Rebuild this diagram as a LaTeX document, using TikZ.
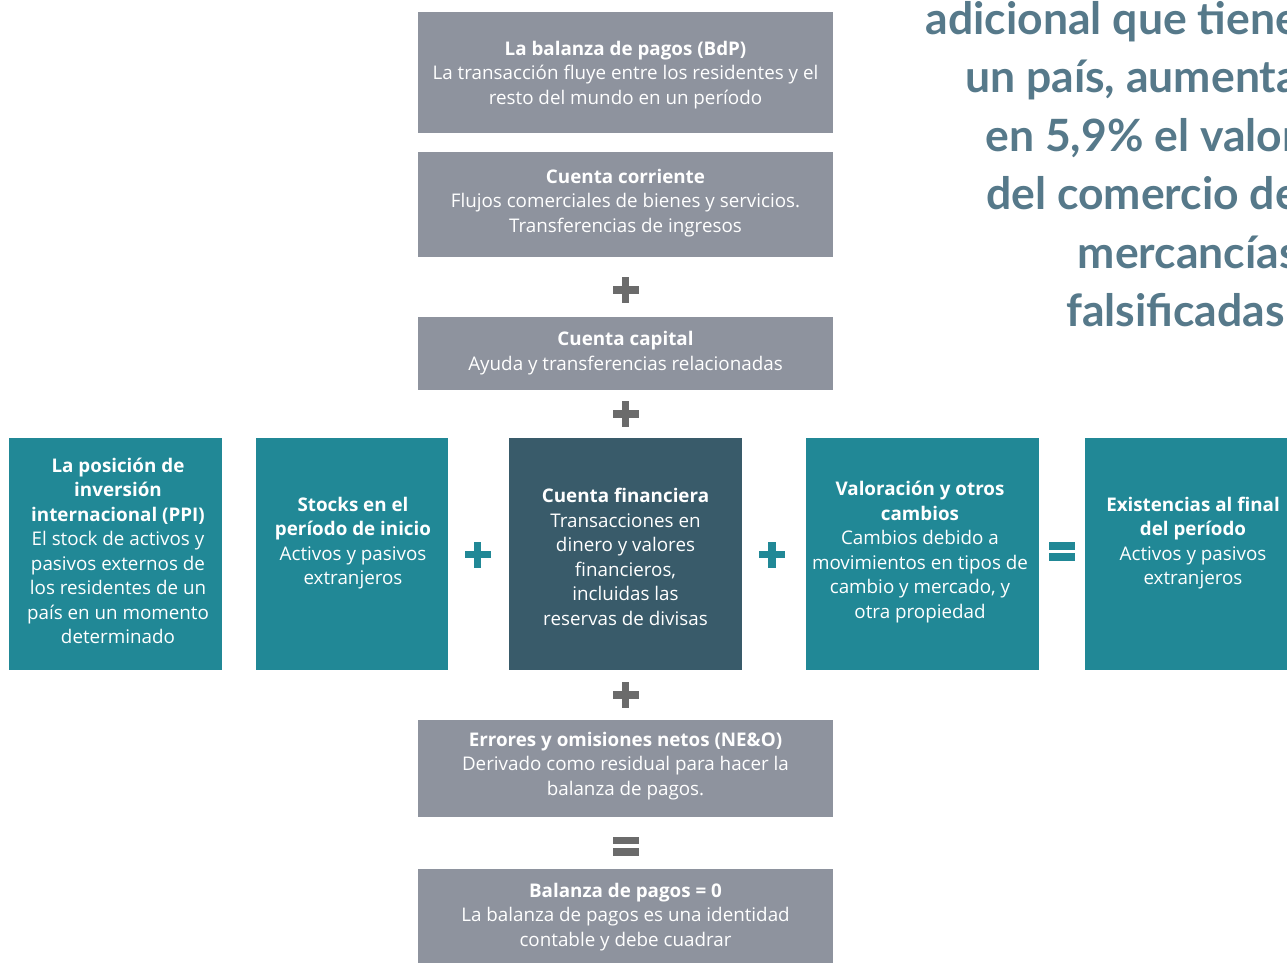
\documentclass[tikz,border=0pt]{standalone}
\usepackage{fontspec}
\setmainfont{Open Sans}
\newfontfamily\headfont{Lato}
\definecolor{boxgray}{HTML}{8E939E}
\definecolor{opgray}{HTML}{6B6B6B}
\definecolor{teal}{HTML}{218896}
\definecolor{navy}{HTML}{395B6A}
\definecolor{headline}{HTML}{56798A}
\tikzset{
  x=1pt, y=-1pt,
  flowbox/.style={fill=#1, draw=none, inner sep=0pt, anchor=north west},
  boxtext/.style={text=white, align=center, font=\fontsize{18.8}{24.5}\selectfont, inner sep=0pt},
  pics/plusop/.style={code={
    \fill[#1] (-13,-3.7) rectangle (13,3.7);
    \fill[#1] (-3.7,-13) rectangle (3.7,13);}},
  pics/equalsop/.style={code={
    \fill[#1] (-13,-9.5) rectangle (13,-1.8);
    \fill[#1] (-13,1.8) rectangle (13,9.5);}},
}
\begin{document}
\begin{tikzpicture}
\useasboundingbox (0,0) rectangle (1287,962);
\clip (0,0) rectangle (1287,962);

% column of accounts
\node[flowbox=boxgray, minimum width=415, minimum height=121] (bdp) at (418,12) {};
\node[flowbox=boxgray, minimum width=415, minimum height=105] (cc) at (418,152) {};
\node[flowbox=boxgray, minimum width=415, minimum height=73] (ck) at (418,317) {};
\node[flowbox=boxgray, minimum width=415, minimum height=97] (eo) at (418,720) {};
\node[flowbox=boxgray, minimum width=415, minimum height=100] (bp) at (418,869) {};

% row of stocks and flows
\node[flowbox=teal, minimum width=213, minimum height=232] (ppi) at (9,438) {};
\node[flowbox=teal, minimum width=192, minimum height=232] (sti) at (256,438) {};
\node[flowbox=navy, minimum width=233, minimum height=232] (cf) at (509,438) {};
\node[flowbox=teal, minimum width=233, minimum height=232] (val) at (806,438) {};
\node[flowbox=teal, minimum width=220, minimum height=232] (exf) at (1085,438) {};

% texts
\node[boxtext] (tbdp) at (625.5,75) {\textbf{La balanza de pagos (BdP)}\\La transacción fluye entre los residentes y el\\resto del mundo en un período};
\node[boxtext] (tcc) at (625.5,203) {\textbf{Cuenta corriente}\\Flujos comerciales de bienes y servicios.\\Transferencias de ingresos};
\node[boxtext] (tck) at (625.5,353) {\textbf{Cuenta capital}\\Ayuda y transferencias relacionadas};
\node[boxtext] (teo) at (625.5,766) {\textbf{Errores y omisiones netos (NE\&O)}\\Derivado como residual para hacer la\\balanza de pagos.};
\node[boxtext] (tbp) at (625.5,917) {\textbf{Balanza de pagos = 0}\\La balanza de pagos es una identidad\\contable y debe cuadrar};

\node[boxtext] (tppi) at (118,551) {\textbf{La posición de}\\\textbf{inversión}\\\textbf{internacional (PPI)}\\El stock de activos y\\pasivos externos de\\los residentes de un\\país en un momento\\determinado};
\node[boxtext] (tsti) at (353,543) {\textbf{Stocks en el}\\\textbf{período de inicio}\\Activos y pasivos\\extranjeros};
\node[boxtext] (tcf) at (625.5,557) {\textbf{Cuenta financiera}\\Transacciones en\\dinero y valores\\financieros,\\incluidas las\\reservas de divisas};
\node[boxtext] (tval) at (920,552) {\textbf{Valoración y otros}\\\textbf{cambios}\\Cambios debido a\\movimientos en tipos de\\cambio y mercado, y\\otra propiedad};
\node[boxtext] (texf) at (1193,543) {\textbf{Existencias al final}\\\textbf{del período}\\Activos y pasivos\\extranjeros};

% operators
\pic at (625.5,290) {plusop=opgray};
\pic at (625.5,414) {plusop=opgray};
\pic at (625.5,695) {plusop=opgray};
\pic at (625.5,846) {equalsop=opgray};
\pic at (477.5,554.5) {plusop=teal};
\pic at (772,554.5) {plusop=teal};
\pic at (1062,551.5) {equalsop=teal};

% headline
\node[anchor=north east, align=right, text=headline, inner sep=0pt,
  font=\headfont\bfseries\fontsize{44.5}{58.5}\selectfont] (head) at (1299,1)
  {adicional que tiene\\un país, aumenta\\en 5,9\% el valor\\del comercio de\\mercancías\\falsificadas\hspace*{14pt}};
\end{tikzpicture}
\end{document}
